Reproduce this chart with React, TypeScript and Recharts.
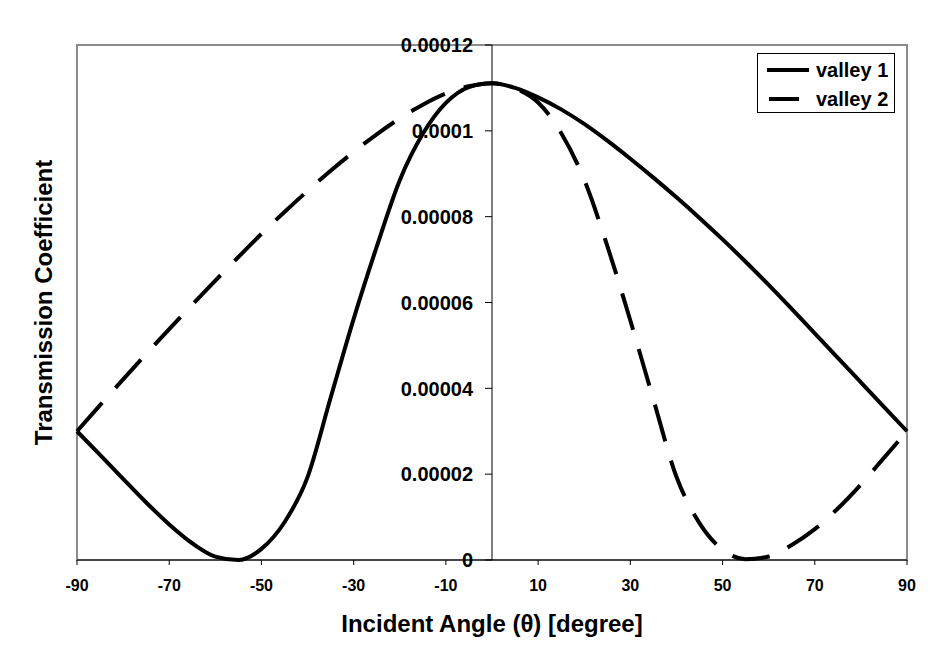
import React from "react";
import { LineChart, Line, XAxis, YAxis, ReferenceLine, ReferenceArea } from "recharts";

// incident angle in degrees, transmission in units of 1e-5
const angles = [
  -90, -85, -80, -75, -70, -65, -60, -55, -50, -45, -40, -35, -30, -25, -20, -15, -10, -5, 0,
  5, 10, 15, 20, 25, 30, 35, 40, 45, 50, 55, 60, 65, 70, 75, 80, 85, 90,
];
const valley1 = [
  3.0, 2.45, 1.89, 1.34, 0.83, 0.39, 0.08, 0.0, 0.26, 0.88, 1.93, 3.78, 5.62, 7.3, 8.85, 9.93, 10.65, 11.02, 11.11,
  11.0, 10.78, 10.5, 10.16, 9.77, 9.35, 8.91, 8.45, 7.97, 7.47, 6.95, 6.41, 5.85, 5.28, 4.71, 4.14, 3.57, 3.0,
];
const valley2 = [
  3.0, 3.61, 4.21, 4.8, 5.38, 5.95, 6.51, 7.06, 7.6, 8.11, 8.6, 9.07, 9.51, 9.92, 10.29, 10.61, 10.87, 11.04, 11.11,
  10.99, 10.66, 9.95, 8.86, 7.32, 5.58, 3.74, 1.94, 0.86, 0.24, 0.02, 0.08, 0.35, 0.72, 1.2, 1.76, 2.38, 3.0,
];

const xTicks = [-90, -70, -50, -30, -10, 10, 30, 50, 70, 90];
const yTicks = [0, 2, 4, 6, 8, 10, 12];
const yTickLabels = ["0", "0.00002", "0.00004", "0.00006", "0.00008", "0.0001", "0.00012"];

const seriesNames = ["valley 1", "valley 2"];

const data = angles.map((theta, i) => ({ theta, v1: valley1[i], v2: valley2[i] }));

const W = 946;
const H = 664;
const margin = { top: 45, right: 39, bottom: 44, left: 76 };
const Y_AXIS_W = 1;
const FONT = "'Liberation Sans', Arial, Helvetica, sans-serif";
const DASH = "38 20";

// the y axis sits at angle 0, in the middle of the plot
const halfPlot = (W - margin.left - Y_AXIS_W - margin.right) / 2;

function YTick(props: any) {
  const { x, y, payload } = props;
  const ax = x + halfPlot;
  const i = yTicks.indexOf(payload.value);
  return (
    <g>
      <line x1={ax - 7} x2={ax} y1={y} y2={y} stroke="#000" strokeWidth={1} />
      <text
        x={ax - 19}
        y={y}
        dy="0.36em"
        textAnchor="end"
        fill="#000"
        fontSize={20}
        fontWeight="bold"
        fontFamily={FONT}
      >
        {yTickLabels[i]}
      </text>
    </g>
  );
}

function XTitle(props: any) {
  const vb = props.viewBox;
  return (
    <text
      x={vb.x + vb.width / 2}
      y={vb.y + 63}
      dy="0.36em"
      textAnchor="middle"
      fill="#000"
      fontSize={24}
      fontWeight="bold"
      fontFamily={FONT}
    >
      Incident Angle (θ) [degree]
    </text>
  );
}

function YTitle(props: any) {
  const vb = props.viewBox;
  const cx = 43;
  const cy = vb.y + vb.height / 2;
  return (
    <text
      x={cx}
      y={cy}
      dy="0.36em"
      textAnchor="middle"
      transform={`rotate(-90 ${cx} ${cy})`}
      fill="#000"
      fontSize={24}
      fontWeight="bold"
      fontFamily={FONT}
    >
      Transmission Coefficient
    </text>
  );
}

function LegendBox() {
  return (
    <div
      style={{
        position: "absolute",
        left: 757,
        top: 53,
        width: 136,
        height: 58,
        border: "1px solid #000",
        background: "#fff",
        fontFamily: FONT,
        fontWeight: "bold",
        fontSize: 20,
        color: "#000",
      }}
    >
      {seriesNames.map((name, i) => (
        <div
          key={name}
          style={{ position: "absolute", left: 8, top: i === 0 ? 3 : 32, height: 26, display: "flex", alignItems: "center" }}
        >
          <svg width={44} height={10}>
            {i === 0 ? (
              <line x1={1} x2={43} y1={5} y2={5} stroke="#000" strokeWidth={4} />
            ) : (
              <line x1={3} x2={33} y1={5} y2={5} stroke="#000" strokeWidth={4} />
            )}
          </svg>
          <span style={{ marginLeft: 6, lineHeight: "26px" }}>{name}</span>
        </div>
      ))}
    </div>
  );
}

export default function App() {
  return (
    <div style={{ position: "absolute", left: 0, top: 0, width: W, height: H, background: "#fff" }}>
      <LineChart width={W} height={H} data={data} margin={margin}>
        <ReferenceArea x1={-90} x2={90} y1={0} y2={12} fill="none" stroke="#8c8c8c" strokeWidth={2} />
        <XAxis
          type="number"
          dataKey="theta"
          domain={[-90, 90]}
          ticks={xTicks}
          interval={0}
          height={60}
          tickSize={5}
          tickMargin={15}
          tick={{ fill: "#000", fontSize: 16, fontWeight: "bold", fontFamily: FONT }}
          axisLine={{ stroke: "#000", strokeWidth: 1 }}
          tickLine={{ stroke: "#000", strokeWidth: 1 }}
          label={<XTitle />}
        />
        <YAxis
          type="number"
          domain={[0, 12]}
          ticks={yTicks}
          interval={0}
          width={Y_AXIS_W}
          tickSize={0}
          tickMargin={0}
          axisLine={false}
          tickLine={false}
          tick={<YTick />}
          label={<YTitle />}
        />
        <ReferenceLine x={0} stroke="#000" strokeWidth={1} />
        <Line
          type="monotone"
          dataKey="v1"
          name={seriesNames[0]}
          stroke="#000"
          strokeWidth={4}
          dot={false}
          isAnimationActive={false}
        />
        <Line
          type="monotone"
          dataKey="v2"
          name={seriesNames[1]}
          stroke="#000"
          strokeWidth={4}
          strokeDasharray={DASH}
          dot={false}
          isAnimationActive={false}
        />
      </LineChart>
      <LegendBox />
    </div>
  );
}
